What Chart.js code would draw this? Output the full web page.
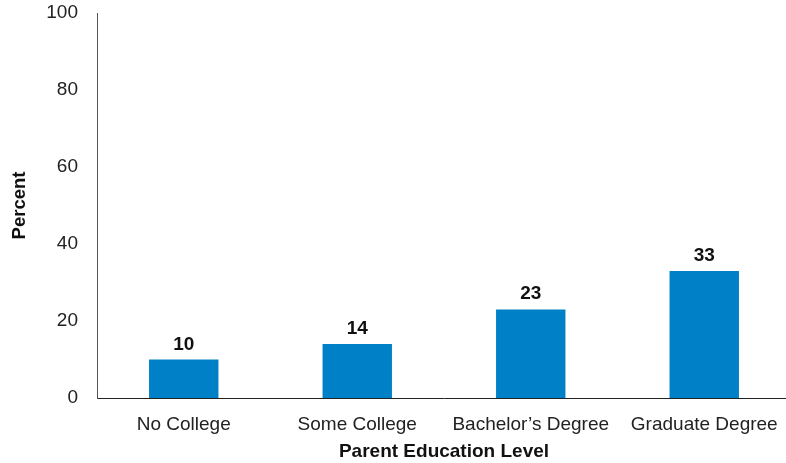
<!DOCTYPE html>
<html>
<head>
<meta charset="utf-8">
<script src="https://cdn.jsdelivr.net/npm/chart.js@4"></script>
<style>
  html, body { margin: 0; padding: 0; background: #fff; overflow: hidden; }
  #wrap { width: 786px; height: 463px; overflow: hidden; }
</style>
</head>
<body>
<div id="wrap"><canvas id="chart" width="791" height="463"></canvas></div>
<script>
const categories = ['No College', 'Some College', 'Bachelor\u2019s Degree', 'Graduate Degree'];
const percentValues = [10, 14, 23, 33];
const yTicks = [0, 20, 40, 60, 80, 100];

// draws the bold numbers above each bar
const barLabels = {
    id: 'barLabels',
    afterDatasetsDraw(chart) {
        const ctx = chart.ctx;
        const meta = chart.getDatasetMeta(0);
        ctx.save();
        ctx.font = 'bold 19px "Liberation Sans", Arial, sans-serif';
        ctx.fillStyle = '#111';
        ctx.textAlign = 'center';
        ctx.textBaseline = 'alphabetic';
        meta.data.forEach((bar, i) => {
            ctx.fillText(String(percentValues[i]), bar.x, bar.y - 10);
        });
        ctx.restore();
    }
};

new Chart(document.getElementById('chart').getContext('2d'), {
    type: 'bar',
    data: {
        labels: categories,
        datasets: [{
            data: percentValues,
            backgroundColor: '#0080C6',
            borderWidth: 0,
            barPercentage: 0.4,
            categoryPercentage: 1.0
        }]
    },
    options: {
        responsive: false,
        animation: false,
        layout: { padding: { top: 13, right: 0, left: 0, bottom: 0 } },
        plugins: { legend: { display: false }, tooltip: { enabled: false } },
        scales: {
            x: {
                grid: { display: false, drawTicks: false },
                border: { display: true, color: '#222', width: 1 },
                ticks: {
                    color: '#222',
                    padding: 15,
                    font: { family: '"Liberation Sans", Arial, sans-serif', size: 19 }
                },
                title: {
                    display: true,
                    text: 'Parent Education Level',
                    color: '#111',
                    padding: { top: 2, bottom: 0 },
                    font: { family: '"Liberation Sans", Arial, sans-serif', size: 19, weight: 'bold' }
                },
                afterFit(scale) {
                    scale.height = 65;
                    scale.paddingLeft = 0;
                    scale.paddingRight = 0;
                }
            },
            y: {
                min: 0,
                max: 100,
                afterBuildTicks(scale) { scale.ticks = yTicks.map(v => ({ value: v })); },
                grid: { display: false, drawTicks: false },
                border: { display: true, color: '#555', width: 1 },
                ticks: {
                    color: '#222',
                    padding: 19,
                    font: { family: '"Liberation Sans", Arial, sans-serif', size: 19 }
                },
                title: {
                    display: true,
                    text: 'Percent',
                    color: '#111',
                    padding: { top: 9, bottom: 0 },
                    font: { family: '"Liberation Sans", Arial, sans-serif', size: 18.5, weight: 'bold' }
                },
                afterFit(scale) {
                    scale.width = 97;
                    scale.paddingTop = 0;
                    scale.paddingBottom = 0;
                }
            }
        }
    },
    plugins: [barLabels]
});
</script>
</body>
</html>
